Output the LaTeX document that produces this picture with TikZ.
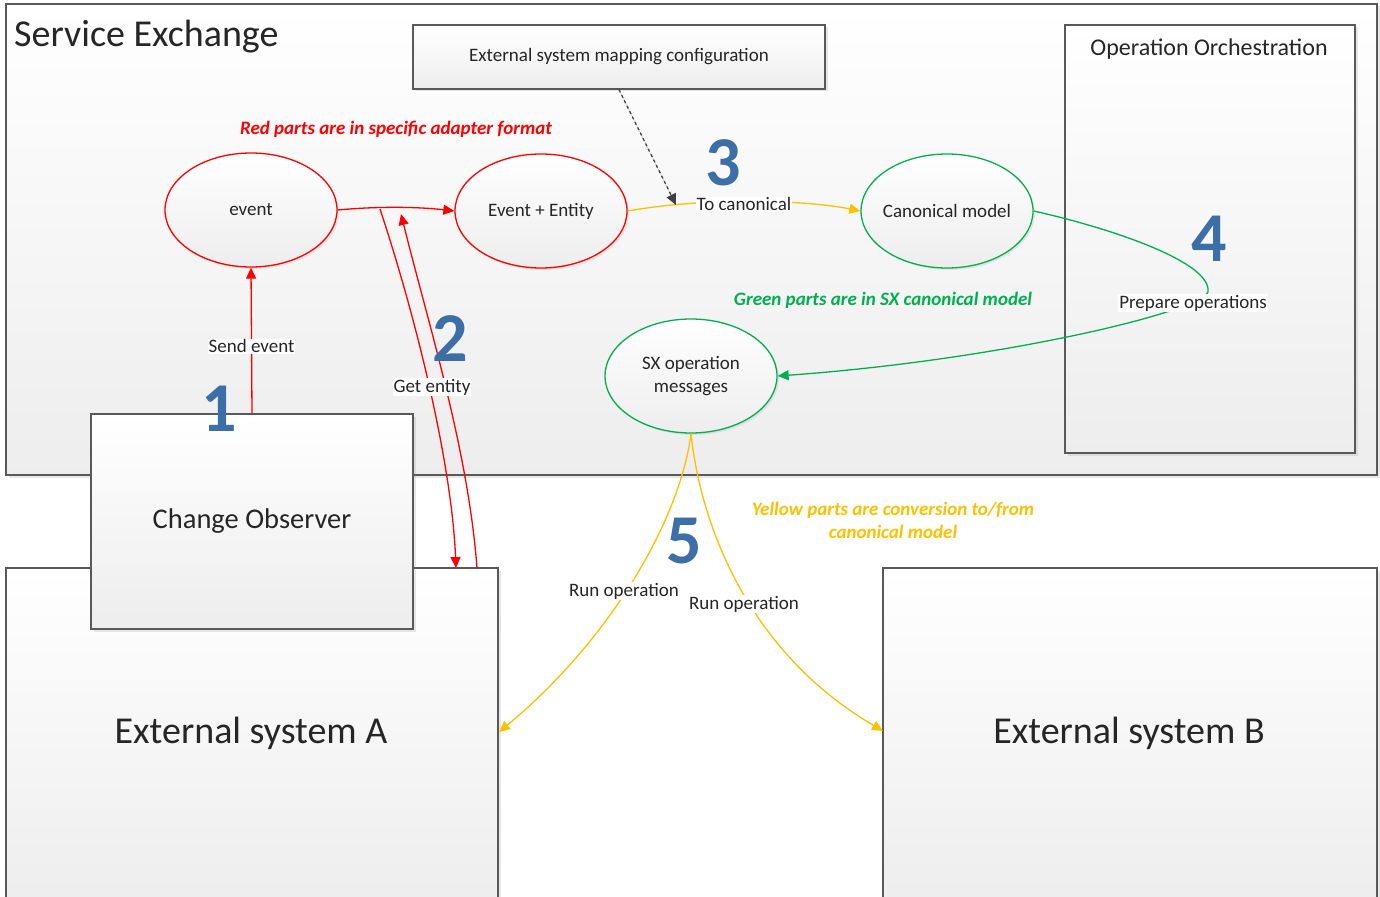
\documentclass[tikz,border=0pt]{standalone}
\usepackage{fontspec}
\setmainfont{Carlito}
\usetikzlibrary{shapes.geometric,arrows.meta,shadows}
\definecolor{rd}{HTML}{FF0000}
\definecolor{gr}{HTML}{00B050}
\definecolor{yl}{HTML}{FFC000}
\definecolor{nb}{HTML}{3C6EA8}
\definecolor{bd}{HTML}{595959}
\definecolor{tx}{HTML}{262626}
\tikzset{
  box/.style={draw=bd, line width=1.4pt, top color=white, bottom color=black!7,
    inner sep=0pt, text=tx, drop shadow={opacity=0.18, shadow xshift=2.5pt, shadow yshift=-2.5pt}},
  ell/.style={ellipse, line width=1.3pt, top color=white, bottom color=black!7,
    minimum width=172pt, minimum height=114pt, inner xsep=-14pt, inner ysep=0pt, text=tx, align=center,
    font=\fontsize{19}{23}\selectfont,
    drop shadow={opacity=0.15, shadow xshift=2pt, shadow yshift=-2pt}},
  num/.style={font=\fontsize{70}{70}\selectfont\bfseries, text=nb, inner sep=0pt},
  lbl/.style={fill=white, inner sep=1pt, text=tx, font=\fontsize{19}{21}\selectfont},
  note/.style={font=\fontsize{19}{23}\selectfont\bfseries\itshape, align=center},
  arr/.style={-{Triangle[length=11pt,width=10pt]}, line width=1.3pt},
}
\begin{document}
\begin{tikzpicture}[x=1pt,y=-1pt]
\useasboundingbox (0,0) rectangle (1380,896);
\clip (0,0) rectangle (1380,896);
\fill[white] (0,0) rectangle (1380,896);

% containers
\node[box, minimum width=1371pt, minimum height=471pt] (se) at (691.5,239.5) {};
\node[anchor=west, text=tx, font=\fontsize{38}{40}\selectfont, inner sep=0pt] (setitle) at (14,37) {Service Exchange};
\node[box, minimum width=412pt, minimum height=64pt, font=\fontsize{19}{22}\selectfont] (map) at (619,57) {External system mapping configuration};
\node[box, minimum width=290pt, minimum height=428pt] (orch) at (1210,239) {};
\node[text=tx, font=\fontsize{24}{26}\selectfont, inner sep=0pt] (orchtitle) at (1209,49) {Operation Orchestration};

\node[box, minimum width=492pt, minimum height=340pt] (extA) at (252,738) {};
\node[text=tx, font=\fontsize{38}{40}\selectfont, inner sep=0pt] (extAtext) at (251,733) {External system A};
\node[box, minimum width=494pt, minimum height=340pt] (extB) at (1130,738) {};
\node[text=tx, font=\fontsize{38}{40}\selectfont, inner sep=0pt] (extBtext) at (1129,733) {External system B};

\node[box, minimum width=322pt, minimum height=215pt, font=\fontsize{28.5}{32}\selectfont] (obs) at (252,521.5) {Change Observer};

% ellipses
\node[ell, draw=rd] (event) at (251,210) {event};
\node[ell, draw=rd] (ee) at (541,211) {Event + Entity};
\node[ell, draw=gr] (canon) at (947,211) {Canonical model};
\node[ell, draw=gr] (sxop) at (691,376) {SX operation\\messages};

% notes
\node[note, text=rd] (rednote) at (396,129) {Red parts are in specific adapter format};
\node[note, text=gr] (greennote) at (883,300) {Green parts are in SX canonical model};
\node[note, text=yl] (yellownote) at (893,520) {Yellow parts are conversion to/from\\canonical model};

% coordinates
\coordinate (g1) at (380,209);
\coordinate (ga) at (456,568);
\coordinate (gb) at (477,568);
\coordinate (c3) at (676,205);
\coordinate (turn) at (1208,292);
\coordinate (runA) at (499,732);
\coordinate (runB) at (883,731);

% red connectors
\draw[arr, rd] (obs.north) -- (event.south) node[lbl, pos=0.46] (lsend) {Send event};
\draw[arr, rd] (event.east) .. controls (380,206) and (420,207) .. (ee.west);
\draw[arr, rd] (g1) .. controls (420,330) and (452,470) .. (ga);
\draw[arr, rd] (gb) .. controls (468,450) and (430,330) .. (401,214);
\node[lbl] (lget) at (432,387) {Get entity};

% yellow: to canonical
\draw[arr, yl] (ee.east) .. controls (700,198) and (800,199) .. (canon.west);
\node[lbl, inner ysep=0.5pt] (lcanon) at (744,204) {To canonical};
\draw[arr, dashed, draw=black!75, fill=black!75, line width=1.3pt] (map.south) -- (c3);

% green: prepare operations
\draw[gr, line width=1.3pt] (canon.east) .. controls (1110,228) and (1212,262) .. (turn);
\draw[arr, gr] (turn) .. controls (1200,312) and (1000,360) .. (sxop.east);
\node[lbl] (lprep) at (1193,303) {Prepare operations};

% yellow: run operations
\draw[arr, yl] (sxop.south) .. controls (680,520) and (610,640) .. (runA);
\draw[arr, yl] (sxop.south) .. controls (700,520) and (745,650) .. (runB);
\node[lbl] (lrunA) at (624,591) {Run operation};
\node[lbl] (lrunB) at (744,604) {Run operation};

% step numbers
\node[num] (n1) at (219,409) {1};
\node[num] (n2) at (450,339) {2};
\node[num] (n3) at (723,163) {3};
\node[num] (n4) at (1209,239) {4};
\node[num] (n5) at (684,541) {5};
\end{tikzpicture}
\end{document}
